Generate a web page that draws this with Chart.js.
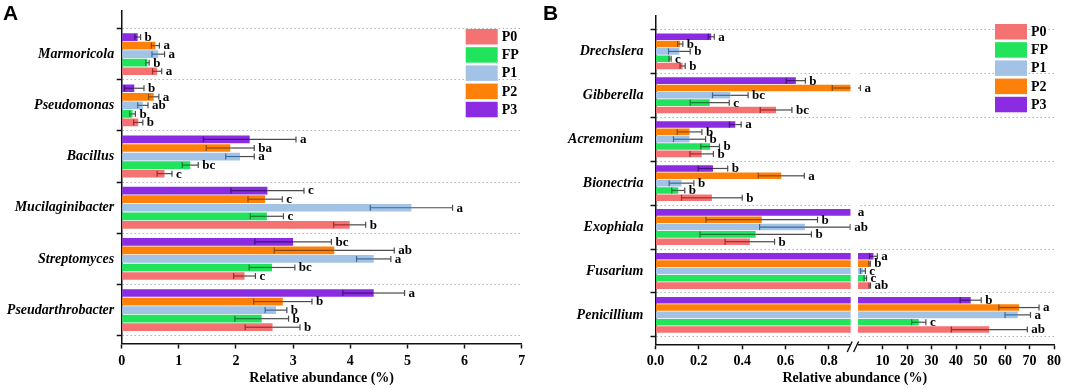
<!DOCTYPE html>
<html><head><meta charset="utf-8">
<script src="https://cdn.jsdelivr.net/npm/chart.js@4/dist/chart.umd.min.js"></script>
<style>
html,body{margin:0;padding:0;background:#fff;}
#wrap{position:relative;width:1065px;height:389px;overflow:hidden;background:#fff;}
canvas{position:absolute;top:0;}
.pl{position:absolute;font:bold 21px 'Liberation Sans',Arial,sans-serif;line-height:21px;color:#000;}
</style></head><body>
<div id="wrap">
<canvas id="cA" width="530" height="389" style="left:0px"></canvas>
<canvas id="cB" width="535" height="389" style="left:530px"></canvas>
<div class="pl" style="left:3px;top:2px">A</div>
<div class="pl" style="left:543px;top:2px">B</div>
</div>
<script>
// ---------------- data ----------------
const groups = ['P0', 'FP', 'P1', 'P2', 'P3'];

// Panel A (bacteria)
const categoriesA = ['Marmoricola', 'Pseudomonas', 'Bacillus', 'Mucilaginibacter', 'Streptomyces', 'Pseudarthrobacter'];
const p0A = [0.62, 0.29, 0.75, 3.99, 2.15, 2.64];
const fpA = [0.45, 0.19, 1.20, 2.54, 2.63, 2.45];
const p1A = [0.64, 0.37, 2.07, 5.07, 4.41, 2.70];
const p2A = [0.59, 0.56, 1.90, 2.51, 3.72, 2.82];
const p3A = [0.28, 0.22, 2.24, 2.55, 3.00, 4.41];
const p0A_sd = [0.08, 0.08, 0.13, 0.28, 0.19, 0.48];
const fpA_sd = [0.03, 0.05, 0.14, 0.29, 0.40, 0.47];
const p1A_sd = [0.11, 0.09, 0.25, 0.72, 0.30, 0.19];
const p2A_sd = [0.07, 0.09, 0.42, 0.30, 1.05, 0.51];
const p3A_sd = [0.05, 0.17, 0.81, 0.64, 0.67, 0.54];
const p0A_sig = ['a', 'b', 'c', 'b', 'c', 'b'];
const fpA_sig = ['b', 'b', 'bc', 'c', 'bc', 'b'];
const p1A_sig = ['a', 'ab', 'a', 'a', 'a', 'b'];
const p2A_sig = ['a', 'a', 'ba', 'c', 'ab', 'b'];
const p3A_sig = ['b', 'b', 'a', 'c', 'bc', 'a'];
const ticksA = [0, 1, 2, 3, 4, 5, 6, 7];

// Panel B (fungi)
const categoriesB = ['Drechslera', 'Gibberella', 'Acremonium', 'Bionectria', 'Exophiala', 'Fusarium', 'Penicillium'];
const p0B = [0.125, 0.556, 0.213, 0.26, 0.435, 4.8, 53.6];
const fpB = [0.067, 0.25, 0.252, 0.105, 0.462, 3.0, 24.8];
const p1B = [0.11, 0.345, 0.157, 0.12, 0.689, 2.0, 65.2];
const p2B = [0.114, 0.90, 0.157, 0.58, 0.49, 4.7, 65.7];
const p3B = [0.257, 0.647, 0.368, 0.265, 0.90, 6.3, 46.0];
const p0B_sd = [0.012, 0.073, 0.054, 0.14, 0.114, 0.3, 15.5];
const fpB_sd = [0.005, 0.09, 0.043, 0.03, 0.257, 0.5, 2.9];
const p1B_sd = [0.05, 0.082, 0.074, 0.057, 0.209, 1.0, 5.2];
const p2B_sd = [0.012, 0.085, 0.057, 0.106, 0.257, 0.3, 8.2];
const p3B_sd = [0.014, 0.044, 0.027, 0.068, 0, 1.6, 4.3];
const p0B_sig = ['b', 'bc', 'b', 'b', 'b', 'ab', 'ab'];
const fpB_sig = ['c', 'c', 'b', 'b', 'b', 'c', 'c'];
const p1B_sig = ['b', 'bc', 'b', 'b', 'ab', 'c', 'a'];
const p2B_sig = ['b', 'a', 'b', 'a', 'b', 'b', 'a'];
const p3B_sig = ['a', 'b', 'a', 'b', 'a', 'a', 'b'];
const ticksB = [0, 0.2, 0.4, 0.6, 0.8, 10, 20, 30, 40, 50, 60, 70, 80];
const breakValueB = 0.9;   // axis break after this value

// ---------------- style ----------------
const colors = {P0: '#F47272', FP: '#22E35C', P1: '#A3C3E6', P2: '#FD8008', P3: '#8B2BE2'};
const darkColors = {P0: '#9E2A2A', FP: '#177A34', P1: '#3B6A9A', P2: '#8A4A05', P3: '#44137A'};
const serif = "'Liberation Serif','Times New Roman',serif";

// broken linear scale: [0, break] on the left part, [0, max] on the right part
const BRK = {lowFrac: 0.4898, highStart: 0.5082};
class BrokenLinearScale extends Chart.LinearScale {
  _dec(v) {
    if (v <= breakValueB) return v / breakValueB * BRK.lowFrac;
    return BRK.highStart + (v / this.max) * (1 - BRK.highStart);
  }
  getPixelForValue(v) {
    if (v === null || v === undefined || !isFinite(v)) return NaN;
    return this.getPixelForDecimal(this._dec(v));
  }
  getValueForPixel(p) {
    const d = this.getDecimalForPixel(p);
    if (d <= BRK.lowFrac) return d / BRK.lowFrac * breakValueB;
    return (d - BRK.highStart) / (1 - BRK.highStart) * this.max;
  }
}
BrokenLinearScale.id = 'brokenLinear';
BrokenLinearScale.defaults = Chart.LinearScale.defaults;
Chart.register(BrokenLinearScale);

const decor = {
  id: 'decor',
  afterDatasetsDraw(chart, args, o) {
    const ctx = chart.ctx, xs = chart.scales.x, ca = chart.chartArea;
    const seg = (x1, y1, x2, y2) => { ctx.beginPath(); ctx.moveTo(x1, y1); ctx.lineTo(x2, y2); ctx.stroke(); };
    const ends = [];
    ctx.save();
    ctx.lineWidth = 1.2;
    chart.data.datasets.forEach((ds, di) => {
      const meta = chart.getDatasetMeta(di);
      ends[di] = [];
      meta.data.forEach((bar, i) => {
        const v = ds.raw[i], s = ds.sd[i], y = bar.y, cap = 3;
        const xm = xs.getPixelForValue(v);
        if (s > 0) {
          const xl = xs.getPixelForValue(v - s), xh = xs.getPixelForValue(v + s);
          ctx.strokeStyle = ds.dark; seg(xl, y, xm, y); seg(xl, y - cap, xl, y + cap);
          ctx.strokeStyle = '#4a4a4a'; seg(xm, y, xh, y); seg(xh, y - cap, xh, y + cap);
          ends[di][i] = xh + 4;
        } else {
          ends[di][i] = xm + 7;
        }
      });
    });
    if (o.broken) {
      const x1 = xs.getPixelForDecimal(BRK.lowFrac), x2 = xs.getPixelForDecimal(BRK.highStart);
      ctx.fillStyle = '#fff';
      ctx.fillRect(x1, ca.top, x2 - x1, ca.bottom - ca.top + 2.5);
      const yb = ca.bottom;
      ctx.strokeStyle = '#111'; ctx.lineWidth = 1.4;
      seg(x1 - 3.5, yb + 7.7, x1 + 1.5, yb - 2.8);
      seg(x2 - 4.4, yb + 7.7, x2 + 0.6, yb - 2.8);
    }
    ctx.fillStyle = '#000';
    ctx.font = 'bold 13px ' + serif;
    ctx.textBaseline = 'middle'; ctx.textAlign = 'left';
    chart.data.datasets.forEach((ds, di) => {
      chart.getDatasetMeta(di).data.forEach((bar, i) => {
        ctx.fillText(ds.letters[i], ends[di][i], bar.y + 0.5);
      });
    });
    // legend
    groups.forEach((g, k) => {
      const y = o.legendTop + k * 18.2;
      ctx.fillStyle = colors[g];
      ctx.fillRect(o.legendX, y, 32, 15.5);
      ctx.fillStyle = '#000';
      ctx.font = 'bold 14px ' + serif;
      ctx.fillText(g, o.legendX + 36, y + 8.3);
    });
    ctx.restore();
  }
};

function buildChart(id, P) {
  const order = ['P3', 'P2', 'P1', 'FP', 'P0'];
  const datasets = order.map(g => ({
    label: g,
    data: P.values[g].map((v, i) => ({x: v, y: i})),
    raw: P.values[g], sd: P.sds[g], letters: P.sig[g], dark: darkColors[g],
    backgroundColor: colors[g], borderWidth: 0,
    categoryPercentage: 0.835, barPercentage: 0.9
  }));
  const n = P.categories.length;
  const bounds = Array.from({length: n + 1}, (_, i) => i - 0.5);
  const tickFont = {family: serif, size: 14, weight: 'bold'};
  return new Chart(document.getElementById(id), {
    type: 'bar',
    data: {datasets},
    options: {
      indexAxis: 'y',
      responsive: false, animation: false, events: [],
      layout: {padding: {left: 0, right: P.rightPad, top: 10, bottom: 0}},
      plugins: {legend: {display: false}, tooltip: {enabled: false},
        decor: {broken: P.broken, legendX: P.legendX, legendTop: P.legendTop}},
      scales: {
        x: {
          type: P.broken ? 'brokenLinear' : 'linear',
          position: 'bottom', min: 0, max: P.xTicks[P.xTicks.length - 1], offset: false,
          afterBuildTicks: s => { s.ticks = P.xTicks.map(v => ({value: v})); },
          afterFit: s => { s.height = P.xHeight; },
          ticks: {autoSkip: false, maxRotation: 0, minRotation: 0, padding: 4, color: '#000', font: tickFont,
            callback: v => P.broken ? (v < 1 ? v.toFixed(1) : String(v)) : String(v)},
          grid: {display: true, offset: false, drawOnChartArea: false, drawTicks: true, tickLength: 5, tickColor: '#111', tickWidth: 1.5},
          border: {display: true, color: '#111', width: 1.5},
          title: {display: true, text: 'Relative abundance (%)', color: '#000',
            font: {family: serif, size: 14, weight: 'bold'}, padding: {top: 0, bottom: 2.6}}
        },
        y: {
          type: 'linear', reverse: true, min: P.yMin, max: P.yMax, offset: false,
          afterBuildTicks: s => { s.ticks = bounds.map(v => ({value: v})); },
          afterFit: s => { s.width = P.yWidth; },
          ticks: {autoSkip: false, padding: P.yPad, labelOffset: P.labelOffset, color: '#000',
            font: {family: serif, size: 14, weight: 'bold', style: 'italic'},
            callback: (v, i) => P.categories[i] || ''},
          grid: {display: true, offset: false, color: '#b4b4b4', lineWidth: 1, drawOnChartArea: true, drawTicks: true,
            tickLength: 5, tickColor: '#111', tickWidth: 1.5},
          border: {display: true, color: '#111', width: 1.5, dash: [1.5, 2.5]}
        }
      }
    },
    plugins: [decor]
  });
}

buildChart('cA', {
  categories: categoriesA,
  values: {P0: p0A, FP: fpA, P1: p1A, P2: p2A, P3: p3A},
  sds: {P0: p0A_sd, FP: fpA_sd, P1: p1A_sd, P2: p2A_sd, P3: p3A_sd},
  sig: {P0: p0A_sig, FP: fpA_sig, P1: p1A_sig, P2: p2A_sig, P3: p3A_sig},
  xTicks: ticksA, broken: false,
  yWidth: 121.7, rightPad: 8.3, xHeight: 45.5, yMin: -0.845, yMax: 5.652, yPad: 2.5, labelOffset: 25.67,
  legendX: 465.7, legendTop: 29
});
buildChart('cB', {
  categories: categoriesB,
  values: {P0: p0B, FP: fpB, P1: p1B, P2: p2B, P3: p3B},
  sds: {P0: p0B_sd, FP: fpB_sd, P1: p1B_sd, P2: p2B_sd, P3: p3B_sd},
  sig: {P0: p0B_sig, FP: fpB_sig, P1: p1B_sig, P2: p2B_sig, P3: p3B_sig},
  xTicks: ticksB, broken: true,
  yWidth: 125.5, rightPad: 8.3, xHeight: 44.7, yMin: -0.82, yMax: 6.67, yPad: 7, labelOffset: 22.3,
  legendX: 465, legendTop: 24
});
</script>
</body></html>
